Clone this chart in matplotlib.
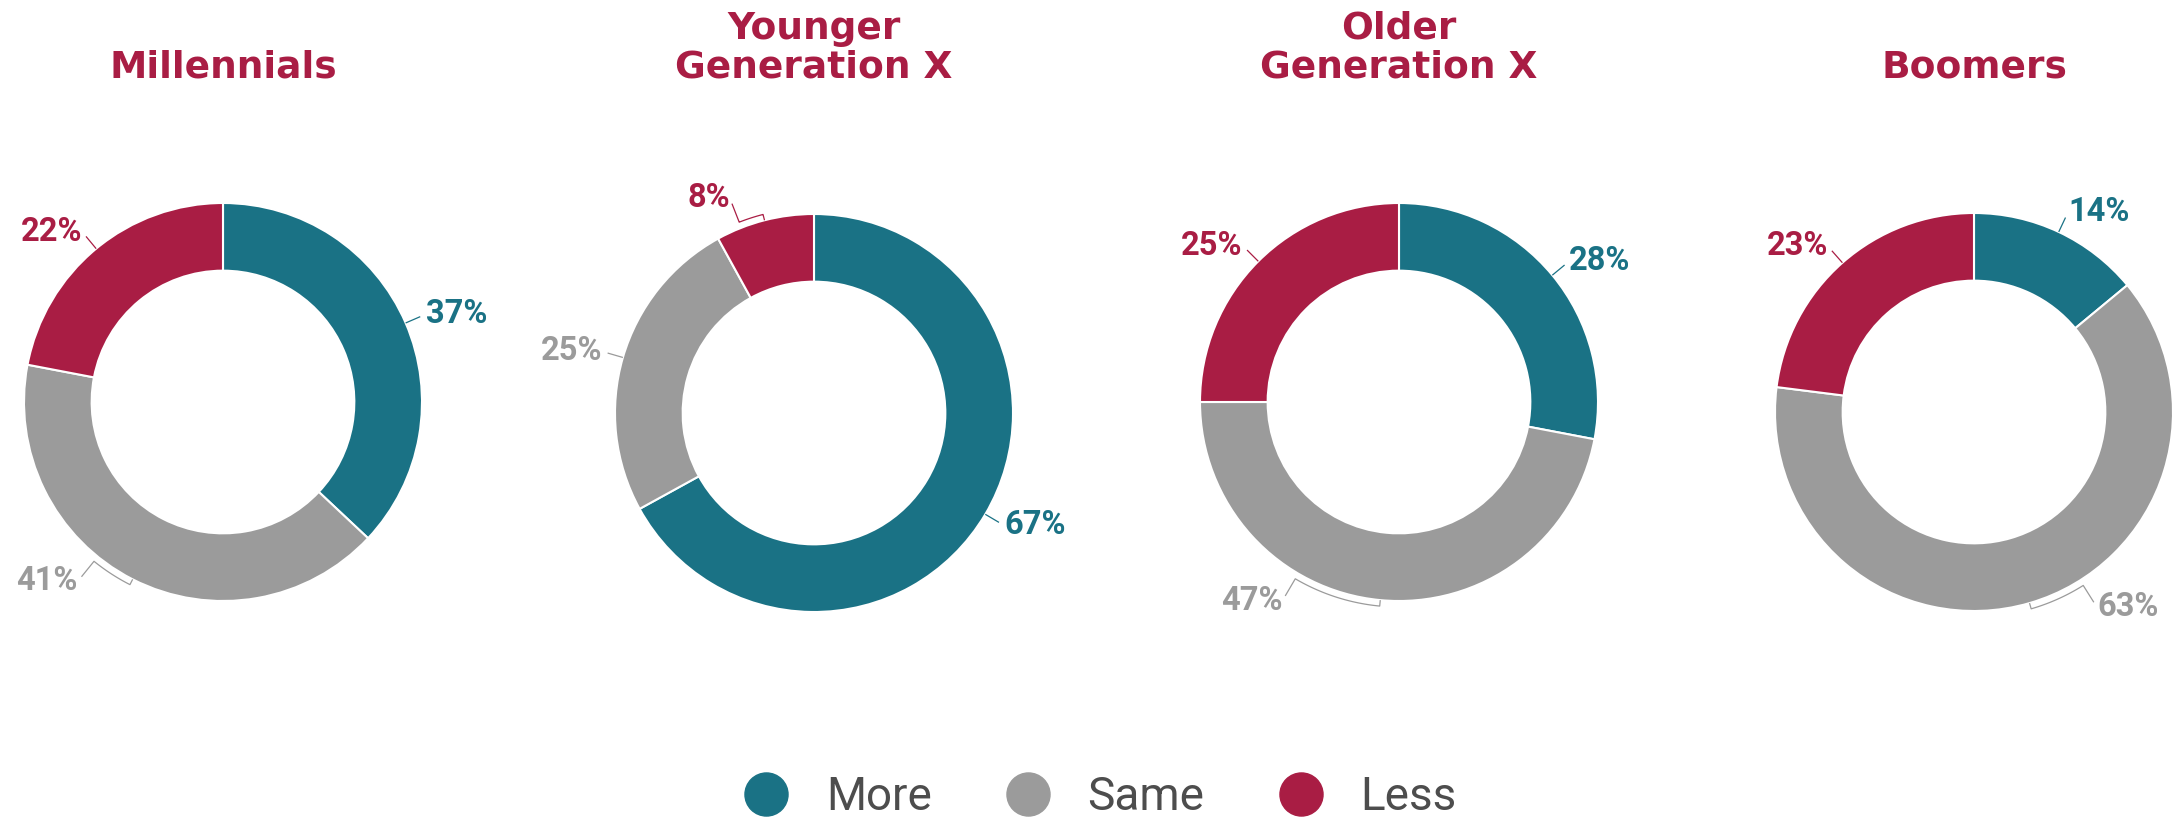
"""
Donut charts: more / same / less by generation, saved as out.png.
"""
import numpy as np
import matplotlib.pyplot as plt
from matplotlib.lines import Line2D

generations = ["Millennials", "Younger\nGeneration X", "Older\nGeneration X", "Boomers"]
categories = ["More", "Same", "Less"]
more = [37, 67, 28, 14]
same = [41, 25, 47, 63]
less = [22, 8, 25, 23]

colors = {"More": "#1A7285", "Same": "#9B9B9B", "Less": "#A91D44"}
title_color = "#A91D44"

W, H = 2183, 824
centers = [(223, 402), (814, 413), (1399, 402), (1974, 412)]  # px, y from top
R = 199
RING = 0.34

# labels pushed off the middle of their slice (degrees, clockwise)
label_shift = {(0, "Same"): 12, (1, "Less"): -7, (2, "Same"): 25, (3, "Same"): -16}


def polar(cx, cy, r, deg):
    t = np.deg2rad(deg)
    return cx + r * np.sin(t), cy + r * np.cos(t)


fig = plt.figure(figsize=(W / 100, H / 100), dpi=100)
ax = fig.add_axes([0, 0, 1, 1])

for i, gen in enumerate(generations):
    vals = [more[i], same[i], less[i]]
    cx, cy = centers[i][0], H - centers[i][1]
    ax.pie(vals, colors=[colors[c] for c in categories], center=(cx, cy), radius=R,
           startangle=90, counterclock=False, frame=True,
           wedgeprops=dict(width=R * RING, edgecolor="white", linewidth=1.5))

    start = 0
    for cat, v in zip(categories, vals):
        mid = (start + v / 2) / 100 * 360
        start += v
        shift = label_shift.get((i, cat), 0)
        lab = mid + shift
        col = colors[cat]
        # leader: short arc just outside the ring, then out to the label
        arc = np.linspace(mid, lab, 30)
        r_arc = R * (1.03 if shift else 1.0)
        xs, ys = polar(cx, cy, r_arc, arc)
        r_out = R * (1.13 if shift else 1.08)
        x1, y1 = polar(cx, cy, r_out, lab)
        x0, y0 = polar(cx, cy, R, mid)
        ax.plot(np.r_[x0, xs, x1], np.r_[y0, ys, y1], color=col, lw=0.9,
                solid_capstyle="butt")
        tx, ty = polar(cx, cy, R * (1.16 if shift else 1.11), lab)
        s = np.sin(np.deg2rad(lab))
        ha = "left" if s > 0 else "right"
        ax.text(tx, ty, f"{v}%", ha=ha, va="center", color=col,
                fontsize=23.5, fontweight="bold", family="Roboto")

    ax.text(cx, H - 85, gen, ha="center", va="bottom", color=title_color,
            fontsize=27, fontweight="bold", family="DejaVu Sans", linespacing=1.08)

ax.set_xlim(0, W)
ax.set_ylim(0, H)
ax.axis("off")

handles = [Line2D([], [], marker="o", ls="", markersize=31,
                  markerfacecolor=colors[c], markeredgecolor=colors[c]) for c in categories]
leg = fig.legend(handles, categories, loc="center", bbox_to_anchor=(1100 / W, 27 / H),
                 ncol=3, frameon=False, handlelength=1.0, handletextpad=0.8,
                 columnspacing=1.6, prop={"family": "Roboto", "size": 33})
for t in leg.get_texts():
    t.set_color("#4D4D4D")

fig.savefig("out.png", dpi=100)
